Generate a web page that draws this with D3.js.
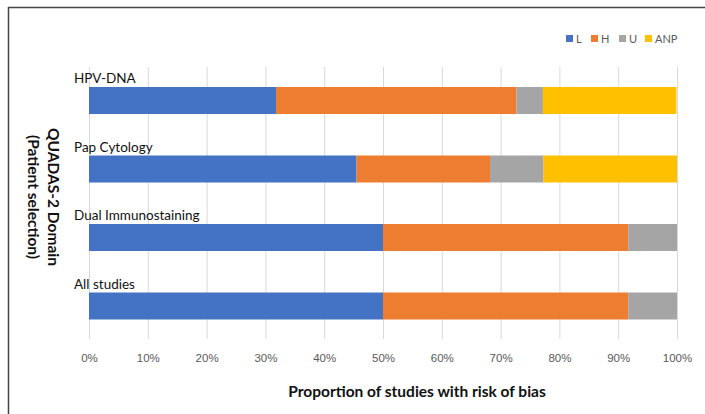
<!DOCTYPE html>
<html>
<head>
<meta charset="UTF-8">
<title>QUADAS-2 Patient selection</title>
<style>
  body{margin:0;background:#fff;}
  svg{font-family:Lato, "Open Sans", sans-serif;}
  .grid line{stroke:#d9d9d9;stroke-width:1;}
  .grid path{display:none;}
  .tick text{fill:#595959;font-size:11.5px;}
</style>
</head>
<body>
<script src="https://cdn.jsdelivr.net/npm/d3@7"></script>
<script>
// categories top to bottom
var categories = ["HPV-DNA", "Pap Cytology", "Dual Immunostaining", "All studies"];
var keys = ["L", "H", "U", "ANP"];
// proportions (%) per category
var L   = [31.8, 45.5, 50.0, 50.0];
var H   = [40.9, 22.7, 41.7, 41.7];
var U   = [4.5, 9.1, 8.3, 8.3];
var ANP = [22.7, 22.7, 0, 0];
var ticks = [0,10,20,30,40,50,60,70,80,90,100];
var colors = ["#4472C4", "#ED7D31", "#A5A5A5", "#FFC000"];

var W = 705, H_ = 414;
var svg = d3.select("body").append("svg").attr("width", W).attr("height", H_);

// frame (top and left edges visible)
svg.append("line").attr("x1",8).attr("x2",W).attr("y1",7.5).attr("y2",7.5).attr("stroke","#444").attr("stroke-width",1.5);
svg.append("line").attr("x1",8.5).attr("x2",8.5).attr("y1",7).attr("y2",H_).attr("stroke","#444").attr("stroke-width",1.5);

var x = d3.scaleLinear().domain([0,100]).range([89,677]);
var gridTop = 67, gridBot = 339;

// row bands
var y = d3.scaleBand().domain(categories).range([66, 340]);

var data = categories.map(function(c,i){return {cat:c, L:L[i], H:H[i], U:U[i], ANP:ANP[i]};});
var series = d3.stack().keys(keys)(data);

svg.append("g").attr("class","grid")
  .attr("transform","translate(0,"+gridBot+")")
  .call(d3.axisBottom(x).tickValues(ticks).tickSize(-(gridBot-gridTop)).tickFormat(function(d){return d+"%";}).tickPadding(15))
  .call(function(g){g.selectAll(".tick text").attr("dy","0.71em");});

var barH = 27;
var offset = 21;
svg.append("g").selectAll("g").data(series).join("g")
  .attr("fill", function(d,i){return colors[i];})
  .selectAll("rect").data(function(d){return d;}).join("rect")
  .attr("x", function(d){return x(d[0]);})
  .attr("width", function(d){return x(d[1])-x(d[0]);})
  .attr("y", function(d){return y(d.data.cat)+offset;})
  .attr("height", barH);

// category labels above bars
svg.append("g").selectAll("text").data(categories).join("text")
  .attr("x", 74)
  .attr("y", function(d){return y(d)+offset-4;})
  .attr("font-size", 13.5)
  .attr("fill", "#111")
  .text(function(d){return d;});

// legend
var lx = [566, 591, 619, 645];
var lg = svg.append("g").selectAll("g").data(keys).join("g")
  .attr("transform", function(d,i){return "translate("+lx[i]+",39)";});
lg.append("rect").attr("x",0).attr("y",-4).attr("width",7).attr("height",7)
  .attr("fill", function(d,i){return colors[i];});
lg.append("text").attr("x",10).attr("y",4).attr("font-size",11).attr("fill","#595959")
  .text(function(d){return d;});

// axis titles
svg.append("text").attr("x", 417).attr("y", 397).attr("text-anchor","middle")
  .attr("font-size", 15.5).attr("font-weight","bold").attr("fill","#111")
  .text("Proportion of studies with risk of bias");
var yt = svg.append("text").attr("transform","translate(53,197) rotate(90)")
  .attr("text-anchor","middle").attr("font-size",15.5).attr("font-weight","bold").attr("fill","#111");
yt.append("tspan").attr("x",0).attr("dy","0.35em").text("QUADAS-2 Domain");
yt.append("tspan").attr("x",0).attr("dy",20).text("(Patient selection)");
</script>
</body>
</html>
